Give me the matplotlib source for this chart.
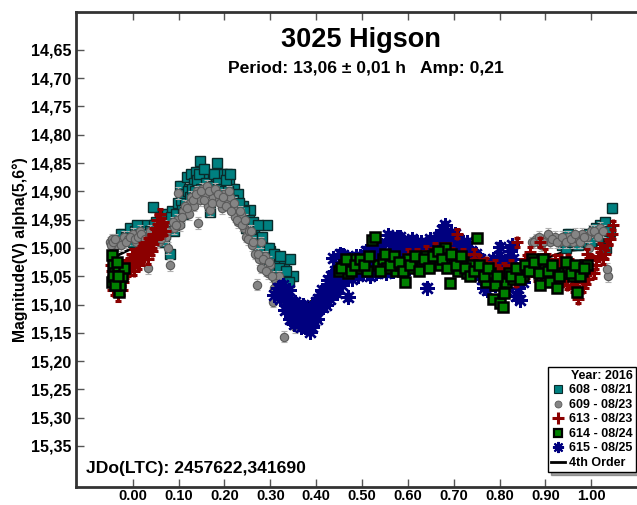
import matplotlib
matplotlib.use("Agg")
import matplotlib.pyplot as plt
from matplotlib.lines import Line2D
from matplotlib.ticker import FixedLocator, FuncFormatter

plt.rcParams["font.family"] = ["Liberation Sans", "DejaVu Sans"]
plt.rcParams["font.weight"] = "bold"

# ---- session 608 (08/21)
s608_phase = [-0.025, -0.015, -0.005, 0.005, 0.012, 0.018, 0.025, 0.032, 0.038, 0.044,
              0.05, 0.056, 0.062, 0.068, 0.074, 0.08, 0.082, 0.086, 0.092, 0.098,
              0.103, 0.108, 0.113, 0.118, 0.123, 0.128, 0.133, 0.138, 0.142, 0.147,
              0.152, 0.157, 0.162, 0.166, 0.169, 0.175, 0.184, 0.19, 0.195, 0.2,
              0.205, 0.21, 0.215, 0.22, 0.227, 0.23, 0.235, 0.24, 0.245, 0.25,
              0.256, 0.26, 0.265, 0.271, 0.275, 0.28, 0.285, 0.29, 0.293, 0.3,
              0.305, 0.31, 0.315, 0.32, 0.325, 0.33, 0.343, 0.35,
              0.0, 0.01, 0.02, 0.03, 0.04, 0.047, 0.053, 0.06, 0.065, 0.07,
              0.077, 0.084, 0.09, 0.095, 0.1, 0.105, 0.11, 0.115, 0.12, 0.125,
              0.13, 0.135, 0.14, 0.145, 0.15, 0.155, 0.16, 0.172, 0.178, 0.187,
              0.193, 0.198, 0.203, 0.208, 0.212, 0.218, 0.223, 0.232, 0.238, 0.243,
              0.248, 0.253, 0.258, 0.263, 0.268, 0.273, 0.278, 0.283, 0.288, 0.297,
              0.302, 0.308, 0.312, 0.318, 0.322, 0.328, 0.335, 0.34,
              0.935, 0.945, 0.955, 0.965, 0.975, 0.985, 0.995, 1.005, 1.015, 1.02,
              1.026, 1.032, 1.038, 1.045, 0.95, 0.97, 0.99, 1.0, 1.01, 1.03, 1.04]
s608_mag = [14.975, 14.98, 14.965, 14.97, 14.985, 14.965, 14.975, 14.96, 14.97, 14.928,
            14.955, 14.965, 14.945, 14.99, 14.94, 14.95, 15.01, 14.935, 14.955, 14.92,
            14.89, 14.93, 14.905, 14.875, 14.895, 14.87, 14.885, 14.865, 14.895, 14.847,
            14.875, 14.89, 14.87, 14.9, 14.936, 14.88, 14.85, 14.875, 14.87, 14.885,
            14.87, 14.88, 14.9, 14.895, 14.93, 14.905, 14.935, 14.925, 14.945, 14.955,
            14.933, 14.96, 14.975, 14.998, 14.99, 14.985, 15.0, 15.01, 14.96, 15.005,
            15.03, 15.015, 15.04, 15.025, 15.045, 15.03, 15.02, 15.05,
            14.99, 14.96, 14.99, 14.975, 14.985, 14.96, 14.98, 14.97, 14.95, 14.975,
            14.965, 14.945, 14.97, 14.94, 14.955, 14.915, 14.94, 14.92, 14.9, 14.91,
            14.895, 14.9, 14.88, 14.87, 14.895, 14.86, 14.885, 14.89, 14.87, 14.885,
            14.895, 14.9, 14.88, 14.9, 14.87, 14.915, 14.925, 14.92, 14.95, 14.935,
            14.965, 14.95, 14.975, 14.955, 14.985, 14.96, 15.0, 14.98, 15.02, 15.0,
            15.04, 15.01, 15.05, 15.035, 15.015, 15.05, 15.04, 15.06,
            14.995, 15.0, 14.99, 14.985, 14.98, 14.99, 14.975, 14.97, 14.985, 14.96,
            14.965, 15.0, 14.975, 14.93, 14.975, 14.995, 14.98, 14.99, 14.965, 14.955, 14.97]

# ---- session 609 (08/23)
s609_phase = [-0.05, -0.045, -0.04, -0.035, -0.03, -0.02, -0.01, 0.0, 0.008, 0.015,
              0.022, 0.03, 0.034, 0.042, 0.05, 0.058, 0.065, 0.072, 0.078, 0.082,
              0.09, 0.097, 0.099, 0.104, 0.11, 0.116, 0.122, 0.125, 0.128, 0.134,
              0.14, 0.143, 0.146, 0.152, 0.158, 0.164, 0.169, 0.176, 0.182, 0.188,
              0.195, 0.2, 0.206, 0.212, 0.218, 0.224, 0.23, 0.236, 0.242, 0.248,
              0.254, 0.26, 0.266, 0.27, 0.276, 0.28, 0.288, 0.294, 0.3, 0.306,
              0.312, 0.32, 0.326, 0.329, 0.343, 0.35, 0.358,
              -0.048, -0.042, -0.038, -0.025, -0.015, -0.005, 0.004, 0.012, 0.018, 0.026,
              0.038, 0.046, 0.054, 0.062, 0.069, 0.075, 0.087, 0.094, 0.107, 0.113,
              0.119, 0.131, 0.137, 0.149, 0.155, 0.161, 0.167, 0.173, 0.179, 0.185,
              0.191, 0.197, 0.203, 0.209, 0.215, 0.221, 0.227, 0.233, 0.239, 0.245,
              0.251, 0.257, 0.263, 0.273, 0.279, 0.285, 0.291, 0.297, 0.303, 0.309,
              0.316, 0.323, 0.336, 0.34, 0.355,
              0.87, 0.88, 0.89, 0.9, 0.91, 0.92, 0.93, 0.94, 0.95, 0.96,
              0.97, 0.98, 0.99, 1.0, 1.01, 1.02, 1.037,
              0.875, 0.885, 0.895, 0.905, 0.915, 0.925, 0.935, 0.945, 0.955, 0.965,
              0.975, 0.985, 0.995, 1.005, 1.015, 1.025, 1.034]
s609_mag = [14.99, 14.985, 15.0, 14.995, 14.99, 14.98, 14.985, 14.975, 14.99, 14.97,
            14.98, 14.995, 15.036, 14.985, 14.975, 14.99, 14.97, 14.98, 15.0, 15.03,
            14.965, 14.95, 14.903, 14.96, 14.935, 14.925, 14.94, 14.92, 14.91, 14.925,
            14.9, 14.956, 14.915, 14.895, 14.905, 14.925, 14.933, 14.91, 14.9, 14.915,
            14.93, 14.905, 14.92, 14.91, 14.93, 14.945, 14.955, 14.94, 14.965, 14.98,
            14.97, 14.995, 15.01, 15.065, 15.02, 14.99, 15.015, 15.045, 15.03, 15.095,
            15.06, 15.05, 15.08, 15.157, 15.11, 15.13, 15.12,
            14.995, 14.99, 14.985, 14.995, 14.99, 14.98, 14.985, 14.98, 14.975, 14.985,
            14.97, 14.98, 14.965, 14.985, 14.96, 14.97, 14.955, 14.96, 14.945, 14.925,
            14.93, 14.915, 14.905, 14.9, 14.915, 14.89, 14.9, 14.92, 14.895, 14.905,
            14.92, 14.91, 14.925, 14.9, 14.935, 14.92, 14.95, 14.935, 14.96, 14.95,
            14.985, 14.97, 14.99, 15.01, 15.035, 15.02, 15.04, 15.025, 15.05, 15.07,
            15.065, 15.09, 15.1, 15.085, 15.14,
            14.99, 14.985, 14.995, 14.985, 14.99, 14.98, 14.99, 14.985, 14.98, 14.99,
            14.985, 14.975, 14.98, 14.97, 14.975, 14.965, 15.05,
            14.99, 14.98, 14.99, 14.975, 14.985, 14.99, 14.98, 14.99, 14.985, 14.975,
            14.99, 14.98, 15.0, 14.97, 14.98, 14.97, 15.037]

# ---- session 613 (08/23)
s613_phase = [-0.048, -0.044, -0.04, -0.036, -0.032, -0.028, -0.024, -0.02, -0.016, -0.012,
              -0.008, -0.004, 0.0, 0.005, 0.01, 0.015, 0.02, 0.025, 0.03, 0.035,
              0.04, 0.045, 0.05, 0.053, 0.058, 0.06, 0.062, 0.066, 0.07,
              -0.046, -0.042, -0.038, -0.034, -0.03, -0.026, -0.022, -0.018, -0.014, -0.01,
              -0.006, -0.002, 0.003, 0.008, 0.013, 0.018, 0.023, 0.028, 0.033, 0.038,
              0.043, 0.048, 0.055, 0.064,
              0.62, 0.66, 0.677, 0.7, 0.707, 0.72, 0.74, 0.755, 0.76, 0.77,
              0.78, 0.79, 0.8, 0.81, 0.82, 0.83, 0.838, 0.845, 0.85, 0.86,
              0.867, 0.875, 0.888, 0.895, 0.9, 0.905, 0.91, 0.915, 0.92, 0.93,
              0.935, 0.94, 0.945, 0.95, 0.955, 0.96, 0.965, 0.97, 0.975, 0.98,
              0.985, 0.99, 0.995, 1.0, 1.01, 1.02, 1.03, 1.04, 1.048,
              0.6, 0.64, 0.68, 0.69, 0.73, 0.745, 0.765, 0.775, 0.785, 0.795,
              0.805, 0.815, 0.825, 0.835, 0.855, 0.865, 0.88, 0.885, 0.89, 0.898,
              0.908, 0.918, 0.925, 0.932, 0.942, 0.948, 0.952, 0.958, 0.962, 0.968,
              0.972, 0.978, 0.982, 0.988, 0.992, 0.998, 1.005, 1.015, 1.025, 1.035,
              1.045]
s613_mag = [15.03, 15.05, 15.065, 15.07, 15.085, 15.06, 15.075, 15.045, 15.05, 15.035,
            15.04, 15.02, 15.03, 15.015, 15.025, 15.005, 15.02, 15.0, 15.01, 14.99,
            15.0, 14.975, 14.985, 14.95, 14.965, 14.94, 14.975, 14.955, 14.97,
            15.04, 15.075, 15.055, 15.06, 15.05, 15.04, 15.06, 15.03, 15.045, 15.025,
            15.03, 15.01, 15.04, 15.01, 15.03, 15.0, 15.015, 14.99, 15.02, 14.985,
            15.005, 14.965, 14.975, 14.96,
            15.01, 15.0, 15.0, 15.02, 14.975, 15.01, 15.03, 15.02, 15.04, 15.025,
            15.045, 15.03, 15.05, 15.035, 15.055, 15.04, 14.99, 15.05, 15.03, 15.045,
            15.007, 15.03, 14.99, 15.04, 15.02, 15.05, 15.03, 15.045, 15.02, 15.04,
            15.06, 15.03, 15.05, 15.02, 15.045, 15.07, 15.035, 15.09, 15.05, 15.03,
            15.06, 15.01, 15.04, 15.02, 15.03, 15.0, 15.01, 14.985, 14.96,
            15.01, 15.005, 15.015, 15.0, 15.02, 15.01, 15.03, 15.05, 15.06, 15.04,
            15.065, 15.045, 15.03, 15.06, 15.02, 15.035, 15.05, 15.02, 15.06, 15.01,
            15.04, 15.06, 15.03, 15.02, 15.045, 15.065, 15.03, 15.055, 15.04, 15.06,
            15.075, 15.045, 15.07, 15.04, 15.055, 15.03, 15.045, 15.015, 15.02, 14.995,
            14.975]

# ---- session 614 (08/24)
s614_phase = [-0.045, -0.042, -0.045, -0.04, -0.036, -0.033, -0.03, -0.027, -0.024, -0.02,
              -0.043, -0.038, -0.035, -0.031,
              0.45, 0.46, 0.47, 0.48, 0.49, 0.5, 0.51, 0.522, 0.528, 0.535,
              0.545, 0.555, 0.565, 0.575, 0.585, 0.594, 0.6, 0.61, 0.62, 0.63,
              0.64, 0.65, 0.66, 0.67, 0.68, 0.692, 0.7, 0.71, 0.72, 0.73,
              0.74, 0.751, 0.76, 0.77, 0.78, 0.786, 0.8, 0.808, 0.815, 0.82,
              0.83, 0.84, 0.85, 0.86, 0.87, 0.88, 0.888, 0.9, 0.91, 0.925,
              0.94, 0.95, 0.96, 0.968, 0.98, 0.99,
              0.455, 0.465, 0.475, 0.485, 0.495, 0.505, 0.515, 0.54, 0.55, 0.56,
              0.57, 0.58, 0.59, 0.605, 0.615, 0.625, 0.635, 0.645, 0.655, 0.665,
              0.675, 0.685, 0.695, 0.705, 0.715, 0.725, 0.735, 0.745, 0.755, 0.765,
              0.775, 0.79, 0.795, 0.81, 0.825, 0.835, 0.845, 0.855, 0.865, 0.875,
              0.885, 0.895, 0.905, 0.915, 0.93, 0.945, 0.955, 0.965, 0.975, 0.985]
s614_mag = [15.012, 15.03, 15.06, 15.045, 15.055, 15.04, 15.078, 15.065, 15.05, 15.035,
            15.05, 15.065, 15.025, 15.05,
            15.04, 15.03, 15.045, 15.02, 15.035, 15.025, 15.04, 14.986, 14.98, 15.03,
            15.02, 15.035, 15.025, 15.04, 15.03, 15.06, 15.02, 15.035, 15.02, 15.03,
            15.015, 15.025, 15.01, 15.03, 15.0, 15.062, 15.02, 15.04, 15.025, 15.045,
            15.03, 14.982, 15.035, 15.06, 15.045, 15.09, 15.097, 15.104, 15.06, 15.045,
            15.055, 15.04, 15.05, 15.035, 15.02, 15.03, 15.065, 15.035, 15.06, 15.071,
            15.045, 15.035, 15.05, 15.077, 15.04, 15.03,
            15.035, 15.02, 15.04, 15.03, 15.02, 15.03, 15.015, 15.04, 15.01, 15.03,
            15.015, 15.025, 15.04, 15.03, 15.015, 15.04, 15.02, 15.035, 15.015, 15.005,
            15.02, 15.035, 15.01, 15.03, 15.015, 15.035, 15.05, 15.04, 15.03, 15.05,
            15.035, 15.065, 15.05, 15.08, 15.05, 15.035, 15.055, 15.03, 15.04, 15.025,
            15.045, 15.02, 15.04, 15.03, 15.05, 15.025, 15.045, 15.03, 15.05, 15.035]

# ---- session 615 (08/25)
s615_phase = [0.309, 0.317, 0.33, 0.335, 0.34, 0.345, 0.35, 0.355, 0.36, 0.365,
              0.37, 0.375, 0.38, 0.387, 0.39, 0.395, 0.4, 0.405, 0.41, 0.415,
              0.42, 0.426, 0.43, 0.437, 0.44, 0.445, 0.452, 0.455, 0.459, 0.465,
              0.47, 0.475, 0.48, 0.485, 0.49, 0.495, 0.5, 0.505, 0.51, 0.515,
              0.52, 0.525, 0.53, 0.535, 0.54, 0.545, 0.55, 0.557, 0.56, 0.565,
              0.57, 0.576, 0.583, 0.585, 0.59, 0.595, 0.6, 0.605, 0.61, 0.615,
              0.62, 0.625, 0.63, 0.635, 0.642, 0.645, 0.65, 0.655, 0.66, 0.665,
              0.67, 0.675, 0.68, 0.685, 0.69, 0.695, 0.7, 0.705, 0.71, 0.715,
              0.72, 0.725, 0.73, 0.735, 0.74, 0.745, 0.75, 0.755, 0.76, 0.765,
              0.77, 0.775, 0.78, 0.785, 0.79, 0.795, 0.8, 0.805, 0.81, 0.815,
              0.82, 0.827, 0.835, 0.845, 0.85,
              0.322, 0.327, 0.332, 0.338, 0.342, 0.348, 0.352, 0.358, 0.362, 0.368,
              0.372, 0.378, 0.383, 0.392, 0.398, 0.402, 0.408, 0.412, 0.418, 0.422,
              0.428, 0.433, 0.438, 0.442, 0.448, 0.45, 0.457, 0.462, 0.468, 0.472,
              0.478, 0.482, 0.488, 0.492, 0.498, 0.502, 0.508, 0.512, 0.518, 0.522,
              0.528, 0.532, 0.538, 0.542, 0.548, 0.552, 0.558, 0.562, 0.568, 0.572,
              0.578, 0.582, 0.588, 0.592, 0.598, 0.602, 0.608, 0.612, 0.618, 0.622,
              0.628, 0.632, 0.638, 0.648, 0.652, 0.658, 0.662, 0.668, 0.672, 0.678,
              0.682, 0.688, 0.692, 0.698, 0.702, 0.708, 0.712, 0.718, 0.722, 0.728,
              0.732, 0.738, 0.742, 0.748, 0.752, 0.758, 0.762, 0.768, 0.772, 0.778,
              0.782, 0.788, 0.792, 0.798, 0.802, 0.808, 0.812, 0.818, 0.822, 0.83,
              0.84]
s615_mag = [15.083, 15.07, 15.085, 15.1, 15.075, 15.11, 15.12, 15.095, 15.13, 15.133,
            15.115, 15.14, 15.125, 15.148, 15.11, 15.13, 15.095, 15.09, 15.085, 15.105,
            15.075, 15.057, 15.09, 15.018, 15.06, 15.08, 15.01, 15.045, 15.013, 15.035,
            15.087, 15.04, 15.025, 15.045, 15.03, 15.015, 15.035, 15.02, 15.04, 15.01,
            15.03, 15.02, 15.045, 15.005, 15.025, 15.01, 15.035, 14.977, 15.02, 15.03,
            15.005, 14.98, 14.98, 14.995, 15.025, 15.005, 14.995, 15.02, 15.0, 15.03,
            14.99, 15.01, 15.02, 14.995, 15.07, 15.0, 15.015, 14.99, 15.025, 14.98,
            15.0, 14.968, 14.96, 14.985, 15.0, 14.975, 14.99, 15.01, 14.985, 15.0,
            14.99, 15.02, 15.005, 15.03, 15.015, 15.04, 15.02, 15.05, 15.035, 15.07,
            15.04, 15.06, 15.045, 15.02, 15.065, 15.03, 14.998, 15.055, 15.04, 15.075,
            15.02, 14.995, 15.085, 15.092, 15.06,
            15.09, 15.065, 15.11, 15.09, 15.125, 15.1, 15.135, 15.11, 15.12, 15.14,
            15.1, 15.135, 15.11, 15.14, 15.115, 15.125, 15.1, 15.075, 15.09, 15.1,
            15.07, 15.05, 15.075, 15.04, 15.06, 15.03, 15.065, 15.025, 15.05, 15.02,
            15.055, 15.035, 15.015, 15.05, 15.025, 15.045, 15.005, 15.025, 15.05, 15.0,
            15.035, 15.015, 15.04, 14.995, 15.02, 15.045, 15.01, 14.99, 15.04, 15.02,
            15.0, 15.035, 15.01, 14.99, 15.015, 15.035, 14.985, 15.015, 15.005, 15.025,
            14.99, 15.01, 15.03, 14.985, 15.005, 15.02, 14.995, 15.01, 14.985, 14.99,
            14.975, 15.005, 14.985, 15.0, 14.975, 14.995, 15.015, 14.995, 15.01, 14.99,
            15.02, 15.005, 15.025, 15.01, 15.035, 15.02, 15.055, 15.03, 15.075, 15.05,
            15.035, 15.055, 15.04, 15.015, 15.045, 15.025, 15.06, 15.035, 15.005, 15.02,
            15.07]

# ---- 4th order Fourier fit
fit_phase = [-0.05, -0.025, 0.0, 0.025, 0.05, 0.075, 0.1, 0.125, 0.15, 0.175,
             0.2, 0.225, 0.25, 0.275, 0.3, 0.325, 0.35, 0.365, 0.38, 0.4,
             0.425, 0.45, 0.475, 0.5, 0.55, 0.6, 0.65, 0.7, 0.75, 0.8,
             0.85, 0.9, 0.95, 1.0, 1.05]
fit_mag = [15.02, 15.01, 15.0, 14.99, 14.975, 14.96, 14.94, 14.92, 14.905, 14.9,
           14.905, 14.925, 14.955, 14.995, 15.04, 15.075, 15.096, 15.1, 15.098, 15.09,
           15.076, 15.056, 15.04, 15.03, 15.023, 15.022, 15.015, 15.008, 15.02, 15.038,
           15.035, 15.018, 15.005, 15.0, 14.98]

x_ticks = [0.0, 0.1, 0.2, 0.3, 0.4, 0.5, 0.6, 0.7, 0.8, 0.9, 1.0]
y_ticks = [14.65, 14.70, 14.75, 14.80, 14.85, 14.90, 14.95, 15.00,
           15.05, 15.10, 15.15, 15.20, 15.25, 15.30, 15.35]

W, H = 637, 505
fig = plt.figure(figsize=(W / 100, H / 100), dpi=100)
ax = fig.add_axes([76 / W, (H - 487) / H, (643 - 76) / W, (487 - 12) / H])

ax.plot(fit_phase, fit_mag, color="black", lw=2.0, zorder=1)

series = [
    dict(x=s608_phase, y=s608_mag, e=0.008, m="s", ms=7.5, mfc="#008080", mec="#0a2a2a", mew=1.0, ec="#3aa0a0"),
    dict(x=s609_phase, y=s609_mag, e=0.010, m="o", ms=6, mfc="#858585", mec="#5a5a5a", mew=0.8, ec="#b0b0b0"),
    dict(x=s615_phase, y=s615_mag, e=0.006, m=(8, 2, 0), ms=10.5, mfc="#00007f", mec="#00007f", mew=1.7, ec="#00007f"),
    dict(x=s613_phase, y=s613_mag, e=0.008, m="+", ms=9, mfc="#8b0000", mec="#8b0000", mew=2.2, ec="#8b0000"),
    dict(x=s614_phase, y=s614_mag, e=0.006, m="s", ms=7.5, mfc="#008000", mec="black", mew=1.8, ec="#3c9c3c"),
]
for z, s in enumerate(series):
    ax.errorbar(s["x"], s["y"], yerr=s["e"], fmt="", marker=s["m"], linestyle="none",
                ms=s["ms"], mfc=s["mfc"], mec=s["mec"], mew=s["mew"], ecolor=s["ec"],
                elinewidth=1.0, capsize=2.5, capthick=1.0, zorder=2 + z)

ax.set_xlim(-0.1236, 1.1127)
ax.set_ylim(15.4225, 14.583)

ax.xaxis.set_major_locator(FixedLocator(x_ticks))
ax.yaxis.set_major_locator(FixedLocator(y_ticks))
ax.xaxis.set_major_formatter(FuncFormatter(lambda v, p: f"{v:.2f}"))
ax.yaxis.set_major_formatter(FuncFormatter(lambda v, p: f"{v:.2f}".replace(".", ",")))
ax.tick_params(axis="x", direction="in", top=True, bottom=True, length=5.5, width=1,
               color="#555555", labelsize=10.5, pad=1.5)
ax.tick_params(axis="y", direction="in", left=True, right=False, length=5.5, width=1,
               color="#555555", labelsize=11.5, pad=3.5)
for lab in ax.get_xticklabels() + ax.get_yticklabels():
    lab.set_fontweight("bold")

for side in ("left", "top", "bottom"):
    ax.spines[side].set_linewidth(2)
    ax.spines[side].set_color("#333333")
ax.spines["right"].set_visible(False)

ax.set_ylabel("Magnitude(V) alpha(5,6°)", fontsize=11.3, fontweight="bold", labelpad=2)

fig.text(361 / W, 1 - 40 / H, "3025 Higson", ha="center", va="center",
         fontsize=19.5, fontweight="bold")
fig.text(366 / W, 1 - 68 / H, "Period: 13,06 ± 0,01 h   Amp: 0,21", ha="center",
         va="center", fontsize=12.6, fontweight="bold")
fig.text(86 / W, 1 - 468 / H, "JDo(LTC): 2457622,341690", ha="left", va="center",
         fontsize=12.6, fontweight="bold")

handles = [
    Line2D([], [], ls="none", marker="s", ms=6, mfc="#008080", mec="#0a2a2a", mew=0.8),
    Line2D([], [], ls="none", marker="o", ms=5, mfc="#858585", mec="#5a5a5a", mew=0.6),
    Line2D([], [], ls="none", marker="+", ms=8, mec="#8b0000", mew=2.2),
    Line2D([], [], ls="none", marker="s", ms=6, mfc="#008000", mec="black", mew=1.6),
    Line2D([], [], ls="none", marker=(8, 2, 0), ms=8, mec="#00007f", mew=1.5),
    Line2D([], [], color="black", lw=2),
]
labels = ["608 - 08/21", "609 - 08/23", "613 - 08/23", "614 - 08/24", "615 - 08/25",
          "4th Order"]
leg = fig.legend(handles, labels, title="Year: 2016", loc="lower right",
                 bbox_to_anchor=(636 / W, (H - 472) / H), bbox_transform=fig.transFigure,
                 prop={"size": 9, "weight": "bold"}, title_fontproperties={"size": 9, "weight": "bold"},
                 alignment="right", frameon=True, fancybox=False, shadow=True,
                 borderpad=0.25, labelspacing=0.2, handlelength=1.1, handletextpad=0.35,
                 borderaxespad=0)
leg.get_frame().set_edgecolor("black")
leg.get_frame().set_linewidth(1.0)

fig.savefig("out.png", dpi=100)
